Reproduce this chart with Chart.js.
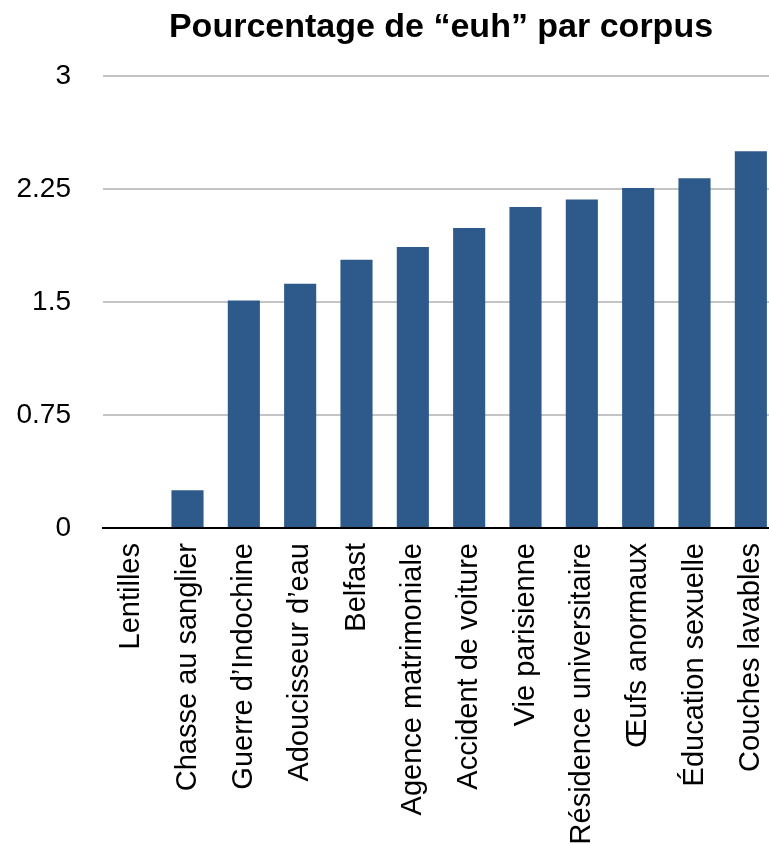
<!DOCTYPE html>
<html lang="fr">
<head>
<meta charset="utf-8">
<title>Pourcentage de “euh” par corpus</title>
<script src="https://cdn.jsdelivr.net/npm/chart.js@4/dist/chart.umd.min.js"></script>
<style>
    html, body { margin: 0; padding: 0; background: #fff; overflow: hidden; }
    /* le graphique original est un peu coupé à droite */
    .chart-wrap { position: relative; width: 780px; height: 844px; }
</style>
</head>
<body>
<div class="chart-wrap">
    <canvas id="euhChart"></canvas>
</div>
<script>
// DONNEES
const corpus = [
    'Lentilles', 'Chasse au sanglier', 'Guerre d’Indochine', 'Adoucisseur d’eau',
    'Belfast', 'Agence matrimoniale', 'Accident de voiture', 'Vie parisienne',
    'Résidence universitaire', 'Œufs anormaux', 'Éducation sexuelle', 'Couches lavables'
];
const pourcentages = [0, 0.25, 1.51, 1.62, 1.78, 1.865, 1.99, 2.13, 2.18, 2.255, 2.32, 2.50];
const yTicks = [0, 0.75, 1.5, 2.25, 3];
const yTickLabels = ['0', '0.75', '1.5', '2.25', '3'];

const FONT = '"Liberation Sans", Arial, Helvetica, sans-serif';

document.addEventListener('DOMContentLoaded', () => {
    const ctx = document.getElementById('euhChart');

    new Chart(ctx, {
        type: 'bar',
        data: {
            labels: corpus,
            datasets: [{
                label: 'Pourcentage de “euh”',
                data: pourcentages,
                backgroundColor: '#2e5a8b',
                borderWidth: 0,
                categoryPercentage: 1,
                barPercentage: 0.57
            }]
        },
        options: {
            responsive: true,
            maintainAspectRatio: false,
            animation: false,
            layout: { padding: { left: 17, right: 1, top: 0, bottom: 0 } },
            plugins: {
                legend: { display: false },
                tooltip: { enabled: false },
                title: {
                    display: true,
                    text: 'Pourcentage de “euh” par corpus',
                    color: '#000',
                    fullSize: false,
                    font: { family: FONT, size: 34, weight: 'bold' },
                    padding: { top: 7, bottom: 28 }
                }
            },
            scales: {
                x: {
                    grid: { display: false, drawTicks: false },
                    border: { display: true, color: '#000', width: 2 },
                    afterFit: (axis) => {
                        // libellés verticaux : hauteur fixe, pas de marge latérale
                        axis.height = 316;
                        axis.paddingLeft = 0;
                        axis.paddingRight = 0;
                    },
                    ticks: {
                        color: '#000',
                        font: { family: FONT, size: 29 },
                        minRotation: 90,
                        maxRotation: 90,
                        autoSkip: false,
                        padding: 15
                    }
                },
                y: {
                    min: 0,
                    max: 3,
                    border: { display: false },
                    grid: { color: '#c4c4c4', lineWidth: 2, drawTicks: false },
                    afterFit: (axis) => { axis.width = 86; },
                    afterBuildTicks: (axis) => {
                        axis.ticks = yTicks.map(v => ({ value: v }));
                    },
                    ticks: {
                        color: '#000',
                        font: { family: FONT, size: 28 },
                        padding: 32,
                        callback: (value) => {
                            const i = yTicks.indexOf(value);
                            return i >= 0 ? yTickLabels[i] : '';
                        }
                    }
                }
            }
        }
    });
});
</script>
</body>
</html>
